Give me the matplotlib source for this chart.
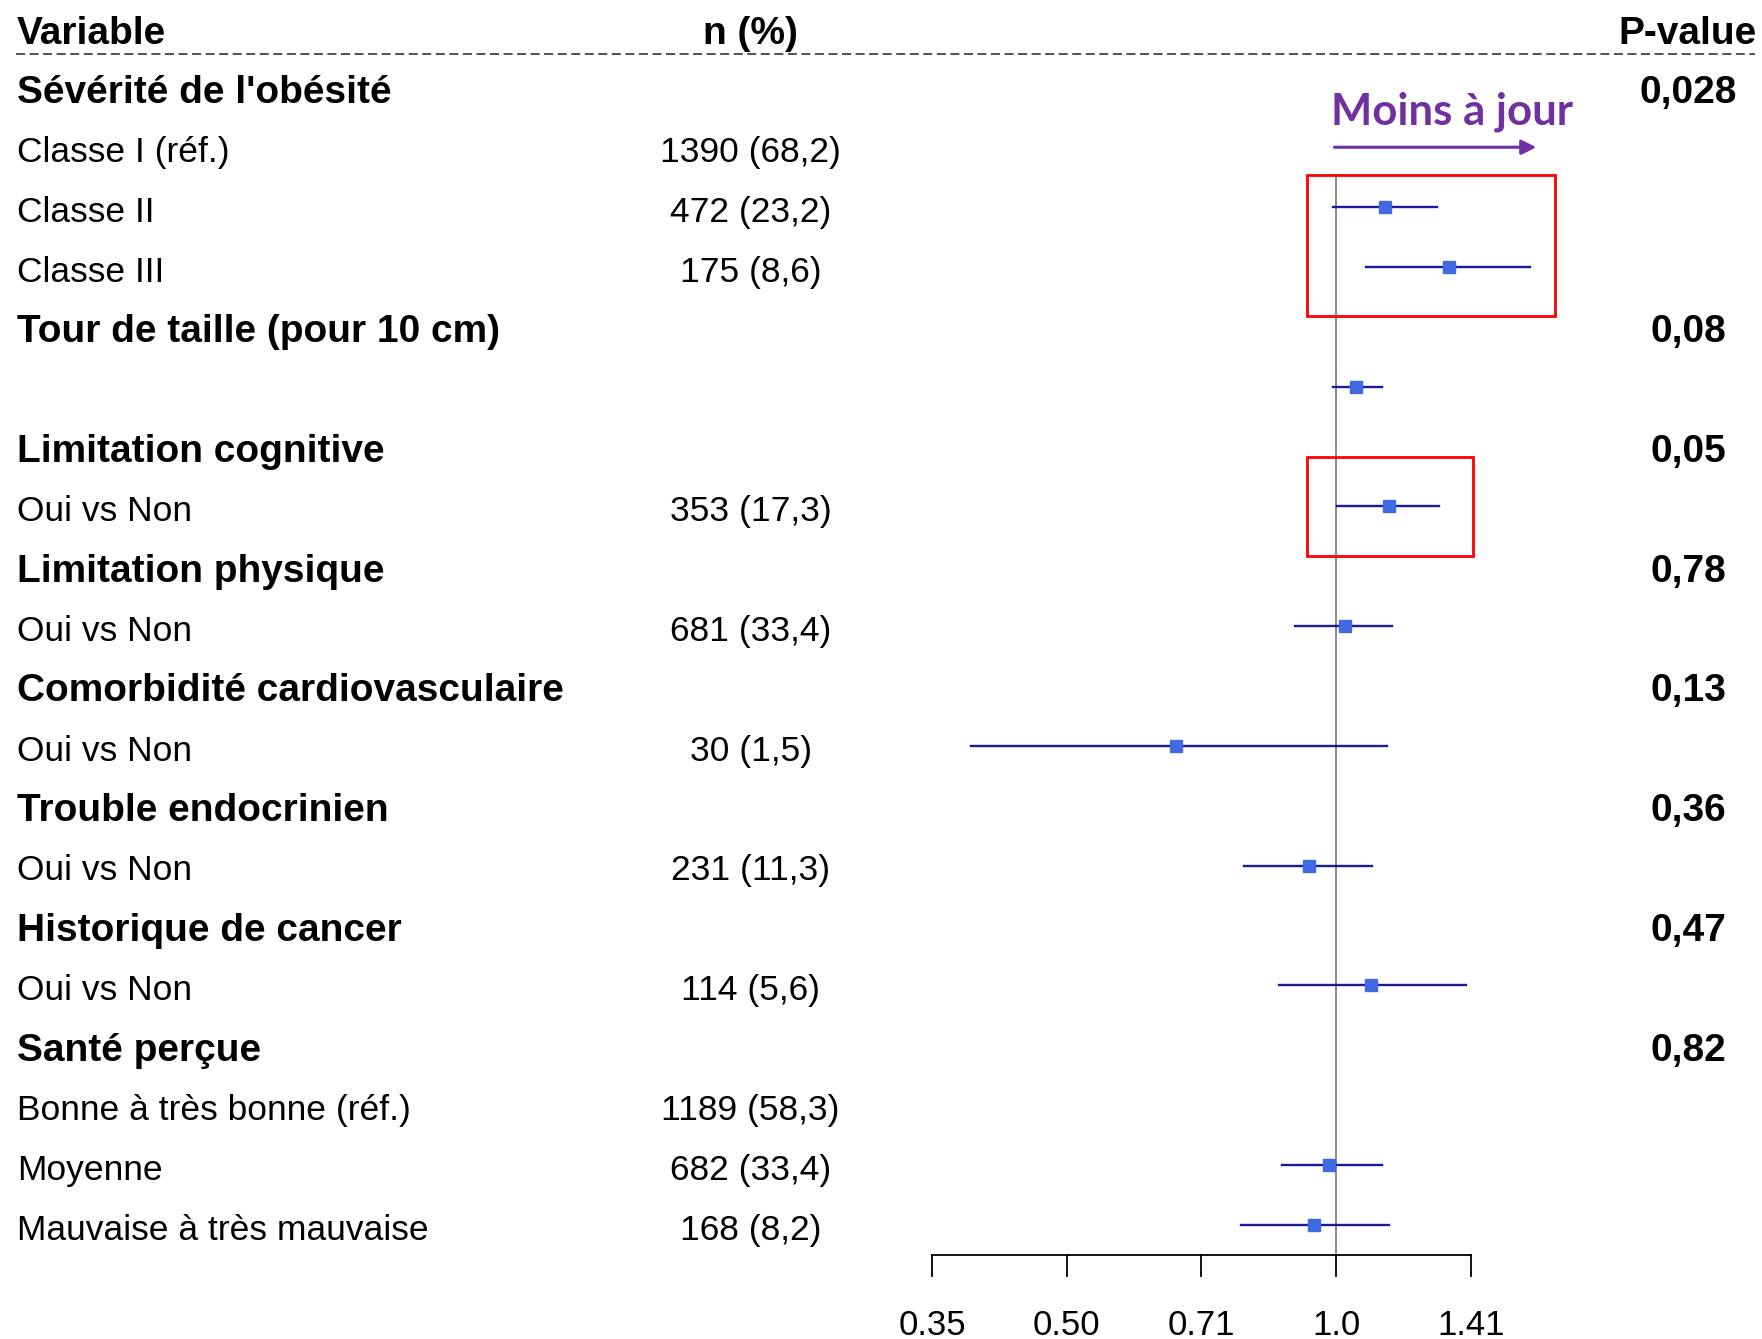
import numpy as np
import matplotlib
matplotlib.use("Agg")
import matplotlib.pyplot as plt
from matplotlib.patches import Rectangle
from matplotlib.transforms import blended_transform_factory

plt.rcParams['font.family'] = ['Liberation Sans', 'DejaVu Sans']

# rows of the table (top to bottom)
labels = ["Sévérité de l'obésité", "Classe I (réf.)", "Classe II", "Classe III",
          "Tour de taille (pour 10 cm)", "",
          "Limitation cognitive", "Oui vs Non",
          "Limitation physique", "Oui vs Non",
          "Comorbidité cardiovasculaire", "Oui vs Non",
          "Trouble endocrinien", "Oui vs Non",
          "Historique de cancer", "Oui vs Non",
          "Santé perçue", "Bonne à très bonne (réf.)", "Moyenne", "Mauvaise à très mauvaise"]
is_group = [True, False, False, False, True, False, True, False, True, False,
            True, False, True, False, True, False, True, False, False, False]
n_pct = ["", "1390 (68,2)", "472 (23,2)", "175 (8,6)", "", "",
         "", "353 (17,3)", "", "681 (33,4)", "", "30 (1,5)",
         "", "231 (11,3)", "", "114 (5,6)", "", "1189 (58,3)", "682 (33,4)", "168 (8,2)"]
p_values = ["0,028", "", "", "", "0,08", "", "0,05", "", "0,78", "", "0,13", "",
            "0,36", "", "0,47", "", "0,82", "", "", ""]

# estimates (odds ratio, CI) -- None where no estimate
est = [None, None, 1.135, 1.339, None, 1.053, None, 1.145, None, 1.023, None, 0.662,
       None, 0.933, None, 1.094, None, None, 0.983, 0.944]
ci_lo = [None, None, 0.991, 1.081, None, 0.991, None, 1.003, None, 0.899, None, 0.391,
         None, 0.789, None, 0.863, None, None, 0.871, 0.782]
ci_hi = [None, None, 1.297, 1.648, None, 1.126, None, 1.304, None, 1.155, None, 1.139,
         None, 1.097, None, 1.398, None, None, 1.126, 1.145]

tick_vals = [2 ** -1.5, 2 ** -1, 2 ** -0.5, 1.0, 2 ** 0.5]
tick_labels = ["0.35", "0.50", "0.71", "1.0", "1.41"]

fig = plt.figure(figsize=(17.62, 13.39), dpi=100)
ax = fig.add_axes([0, 0, 1, 1])
ax.set_xscale('log', base=2)
ax.set_xlim(2 ** -4.963, 2 ** 1.582)
ax.set_ylim(20.87, -1.502)
ax.axis('off')

tr = blended_transform_factory(fig.transFigure, ax.transData)

fs_reg = 25.5
fs_bold = 28
dy = 0.05   # small downward nudge so text centres line up with the marks

# headers
ax.text(0.0096, -1 + 0.07, "Variable", transform=tr, fontsize=fs_bold, fontweight='bold', va='center', ha='left')
ax.text(0.426, -1 + 0.07, "n (%)", transform=tr, fontsize=fs_bold, fontweight='bold', va='center', ha='center')
ax.text(0.958, -1 + 0.07, "P-value", transform=tr, fontsize=fs_bold, fontweight='bold', va='center', ha='center')
ax.plot([0.0089, 0.9961], [-0.6, -0.6], transform=tr, color='#444444', lw=1.3,
        linestyle=(0, (5, 2.5)), clip_on=False)

for i, lab in enumerate(labels):
    if lab:
        ax.text(0.0096, i + dy, lab, transform=tr, va='center', ha='left',
                fontsize=fs_bold if is_group[i] else fs_reg,
                fontweight='bold' if is_group[i] else 'normal')
    if n_pct[i]:
        ax.text(0.426, i + dy, n_pct[i], transform=tr, va='center', ha='center', fontsize=fs_reg)
    if p_values[i]:
        ax.text(0.958, i + dy, p_values[i], transform=tr, va='center', ha='center',
                fontsize=fs_bold, fontweight='bold')

# reference line
ax.plot([1, 1], [1.43, 19.47], color='gray', lw=1.3, zorder=1)

# CIs and point estimates
for i in range(len(est)):
    if est[i] is None:
        continue
    y = i - 0.04
    ax.plot([ci_lo[i], ci_hi[i]], [y, y], color='#1a1a9c', lw=1.7, zorder=2)
    ax.plot(est[i], y, marker='s', color='#4169E1', markersize=8, zorder=3)

# x axis
ax.plot([tick_vals[0], tick_vals[-1]], [19.47, 19.47], color='black', lw=1.3)
for v, t in zip(tick_vals, tick_labels):
    ax.plot([v, v], [19.47, 19.81], color='black', lw=1.3)
    ax.text(v, 20.65, t, ha='center', va='center', fontsize=25)

# annotation
ax.text(2 ** 0.43, 0.37, "Moins à jour", ha='center', va='center', fontsize=31.5,
        fontweight='bold', color='#7030A0', family=['Lato', 'DejaVu Sans'])
ax.annotate("", xy=(2 ** 0.754, 0.958), xytext=(2 ** -0.0167, 0.958),
            arrowprops=dict(arrowstyle='-|>', color='#7030A0', lw=2.2, mutation_scale=22))

# highlight boxes
for x0, x1, y0, y1 in [(-0.108, 0.8125, 1.427, 3.774), (-0.108, 0.508, 6.14, 7.79)]:
    ax.add_patch(Rectangle((2 ** x0, y0), 2 ** x1 - 2 ** x0, y1 - y0, fill=False,
                           edgecolor='red', lw=2, zorder=4))

fig.savefig("out.png", dpi=100)
